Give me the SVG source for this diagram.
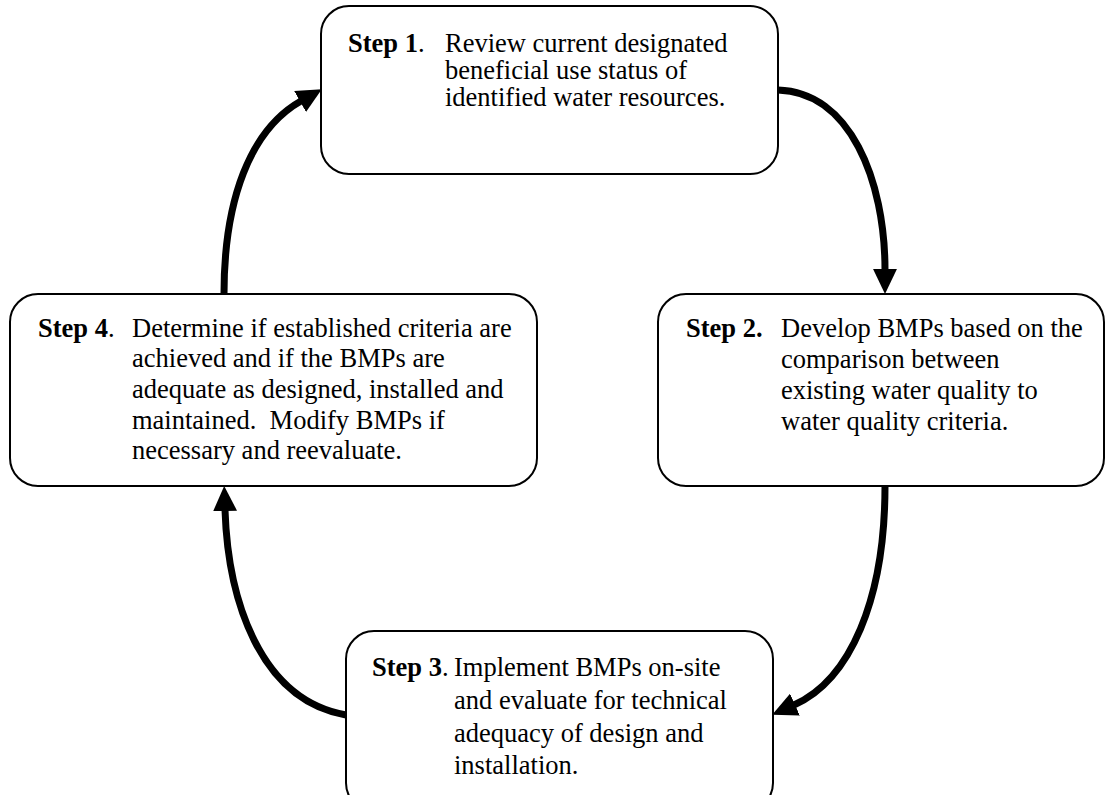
<svg xmlns="http://www.w3.org/2000/svg" width="1106" height="795" viewBox="0 0 1106 795">
  <style>
    .box { fill: #ffffff; stroke: #000000; stroke-width: 2; }
    .t { font-family: "Liberation Serif", "Times New Roman", serif; font-size: 26.5px; fill: #000000; }
    .b { font-weight: bold; }
    .conn { fill: none; stroke: #000000; stroke-width: 7; }
  </style>
  <defs>
    <marker id="ah" markerUnits="userSpaceOnUse" markerWidth="26" markerHeight="24" refX="1" refY="11.5" orient="auto" viewBox="0 0 25 23">
      <path d="M0,0 L24,11.5 L0,23 z" fill="#000000"/>
    </marker>
  </defs>
  <rect width="1106" height="795" fill="#ffffff"/>

  <g id="connectors">
    <path class="conn" d="M778,90 C850,92 885,180 885,270" marker-end="url(#ah)"/>
    <path class="conn" d="M885,486 C885,600 850,680 794,705" marker-end="url(#ah)"/>
    <path class="conn" d="M346,715 C260,700 228,600 225,510" marker-end="url(#ah)"/>
    <path class="conn" d="M224,294 C224,200 250,130 301,101" marker-end="url(#ah)"/>
  </g>

  <g id="step1">
    <rect class="box" x="321" y="6" width="457" height="168" rx="28" ry="28"/>
    <text class="t" x="348" y="52"><tspan class="b">Step 1</tspan>.</text>
    <text class="t" x="445" y="52">Review current designated</text>
    <text class="t" x="445" y="79">beneficial use status of</text>
    <text class="t" x="445" y="106">identified water resources.</text>
  </g>

  <g id="step2">
    <rect class="box" x="658" y="294" width="446" height="192" rx="28" ry="28"/>
    <text class="t b" x="686" y="337">Step 2.</text>
    <text class="t" x="781" y="337">Develop BMPs based on the</text>
    <text class="t" x="781" y="368">comparison between</text>
    <text class="t" x="781" y="399">existing water quality to</text>
    <text class="t" x="781" y="430">water quality criteria.</text>
  </g>

  <g id="step4">
    <rect class="box" x="10" y="294" width="527" height="192" rx="28" ry="28"/>
    <text class="t" x="38" y="337"><tspan class="b">Step 4</tspan>.</text>
    <text class="t" x="132" y="337">Determine if established criteria are</text>
    <text class="t" x="132" y="367">achieved and if the BMPs are</text>
    <text class="t" x="132" y="398">adequate as designed, installed and</text>
    <text class="t" x="132" y="429" xml:space="preserve">maintained.  Modify BMPs if</text>
    <text class="t" x="132" y="459">necessary and reevaluate.</text>
  </g>

  <g id="step3">
    <rect class="box" x="346" y="631" width="427" height="180" rx="28" ry="28"/>
    <text class="t" x="372" y="676"><tspan class="b">Step 3</tspan>.</text>
    <text class="t" x="454" y="676">Implement BMPs on-site</text>
    <text class="t" x="454" y="709">and evaluate for technical</text>
    <text class="t" x="454" y="742">adequacy of design and</text>
    <text class="t" x="454" y="774">installation.</text>
  </g>
</svg>
